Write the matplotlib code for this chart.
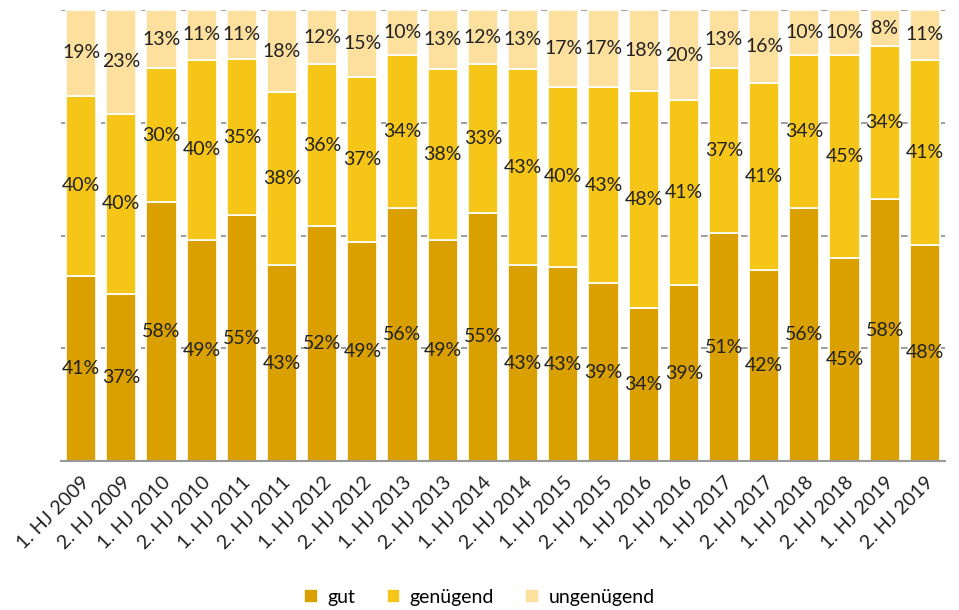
import numpy as np
import matplotlib.pyplot as plt

# Daten
periods = ["1. HJ 2009", "2. HJ 2009", "1. HJ 2010", "2. HJ 2010", "1. HJ 2011",
           "2. HJ 2011", "1. HJ 2012", "2. HJ 2012", "1. HJ 2013", "2. HJ 2013",
           "1. HJ 2014", "2. HJ 2014", "1. HJ 2015", "2. HJ 2015", "1. HJ 2016",
           "2. HJ 2016", "1. HJ 2017", "2. HJ 2017", "1. HJ 2018", "2. HJ 2018",
           "1. HJ 2019", "2. HJ 2019"]
gut = [41, 37, 58, 49, 55, 43, 52, 49, 56, 49, 55, 43, 43, 39, 34, 39, 51, 42, 56, 45, 58, 48]
genuegend = [40, 40, 30, 40, 35, 38, 36, 37, 34, 38, 33, 43, 40, 43, 48, 41, 37, 41, 34, 45, 34, 41]
ungenuegend = [19, 23, 13, 11, 11, 18, 12, 15, 10, 13, 12, 13, 17, 17, 18, 20, 13, 16, 10, 10, 8, 11]

series = [("gut", gut, "#D9A000"),
          ("genügend", genuegend, "#F5C518"),
          ("ungenügend", ungenuegend, "#FDDF9E")]

plt.rcParams["font.family"] = ["Lato", "DejaVu Sans"]

fig = plt.figure(figsize=(9.59, 6.10), dpi=100)
ax = fig.add_axes([61 / 959, 1 - 461 / 610, 884 / 959, 451 / 610])

x = np.arange(len(periods))
totals = np.array(gut) + np.array(genuegend) + np.array(ungenuegend)
bottom = np.zeros(len(periods))

for name, vals, col in series:
    share = np.array(vals) / totals * 100
    ax.bar(x, share, width=0.75, bottom=bottom, color=col, edgecolor="white",
           linewidth=1.2, label=name, zorder=2)
    for xi, b, h, v in zip(x, bottom, share, vals):
        ax.text(xi, b + h / 2, f"{v}%", ha="center", va="center",
                fontsize=14, color="#222222", zorder=3)
    bottom += share

# Gitterlinien
for y in (25, 50, 75, 100):
    ax.axhline(y, color="#8c8c8c", linestyle=(0, (4, 8)), linewidth=1.2, zorder=1)

ax.set_xlim(-0.5, len(periods) - 0.5)
ax.set_ylim(0, 100)
ax.set_yticks([])
for s in ["top", "right", "left"]:
    ax.spines[s].set_visible(False)
ax.spines["bottom"].set_color("#999999")
ax.spines["bottom"].set_linewidth(1.5)

ax.set_xticks(x)
ax.set_xticklabels(periods, rotation=45, ha="right", rotation_mode="anchor",
                   fontsize=14, color="#222222")
ax.tick_params(axis="x", length=0, pad=9)

fig.legend(loc="lower center", bbox_to_anchor=(0.5, -0.022), ncol=3, frameon=False,
           fontsize=14, handlelength=0.7, handleheight=0.7, columnspacing=1.6,
           handletextpad=0.5)

fig.savefig("out.png", dpi=100)
